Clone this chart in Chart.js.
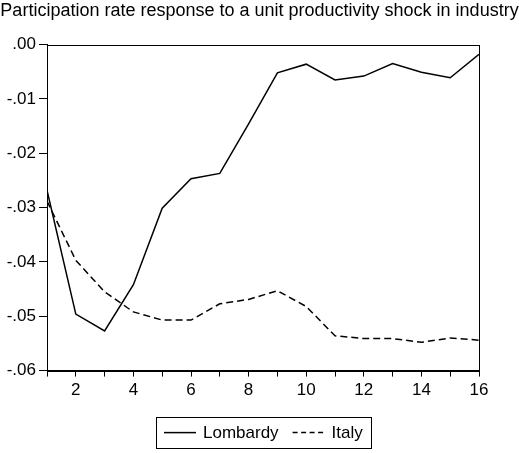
<!DOCTYPE html>
<html>
<head>
<meta charset="utf-8">
<script src="https://cdn.jsdelivr.net/npm/chart.js@4.4.0/dist/chart.umd.min.js"></script>
<style>
    html, body { margin: 0; padding: 0; background: #fff; }
    #wrap { width: 519px; height: 453px; }
</style>
</head>
<body>
<div id="wrap"><canvas id="irfChart" width="519" height="453"></canvas></div>
<script>
// impulse response horizons
const periods = [1, 2, 3, 4, 5, 6, 7, 8, 9, 10, 11, 12, 13, 14, 15, 16];
const lombardy = [-0.0268, -0.0496, -0.0527, -0.0442, -0.0301, -0.0247, -0.0237, -0.0146, -0.0052,
    -0.0036, -0.0065, -0.0058, -0.0035, -0.0051, -0.0061, -0.0018];
const italy = [-0.0288, -0.0397, -0.0455, -0.0492, -0.0507, -0.0507, -0.0477, -0.0469, -0.0453,
    -0.0482, -0.0536, -0.0541, -0.0541, -0.0548, -0.0540, -0.0544];
const seriesNames = ['Lombardy', 'Italy'];
const titleText = 'Participation rate response to a unit productivity shock in industry';

const FONT = "'Liberation Sans', Arial, sans-serif";

function fmtTick(v) {
    const s = Math.abs(v).toFixed(2).replace(/^0/, '');
    return (v < -1e-9 ? '-' : '') + s;
}

// frame around the plot + boxed legend under it
const framePlugin = {
    id: 'frameAndLegend',
    afterDraw(chart) {
        const c = chart.ctx;
        const a = chart.chartArea;
        c.save();
        c.strokeStyle = '#000';
        c.lineWidth = 1;
        c.setLineDash([]);
        c.strokeRect(Math.round(a.left) + 0.5, Math.round(a.top) + 0.5,
            Math.round(a.right - a.left), Math.round(a.bottom - a.top));

        c.font = '17px ' + FONT;
        c.textBaseline = 'middle';
        const sample = 32, gap = 7, between = 14, padX = 8;
        const w0 = c.measureText(seriesNames[0]).width;
        const w1 = c.measureText(seriesNames[1]).width;
        const total = padX + sample + gap + w0 + between + sample + gap + w1 + padX;
        const cx = (a.left + a.right) / 2;
        const cy = a.bottom + 62;
        const x0 = Math.round(cx - total / 2);
        c.strokeRect(x0 + 0.5, Math.round(cy - 16) + 0.5, Math.round(total), 31);

        let x = x0 + padX;
        c.lineWidth = 1.5;
        c.beginPath();
        c.moveTo(x, cy); c.lineTo(x + sample, cy);
        c.stroke();
        x += sample + gap;
        c.fillStyle = '#000';
        c.fillText(seriesNames[0], x, cy + 1);
        x += w0 + between;
        c.setLineDash([5, 3.5]);
        c.beginPath();
        c.moveTo(x, cy); c.lineTo(x + sample, cy);
        c.stroke();
        c.setLineDash([]);
        x += sample + gap;
        c.fillText(seriesNames[1], x, cy + 1);
        c.restore();
    }
};

const ctx = document.getElementById('irfChart').getContext('2d');
new Chart(ctx, {
    type: 'line',
    data: {
        datasets: [
            {
                label: seriesNames[0],
                data: periods.map((p, i) => ({ x: p, y: lombardy[i] })),
                borderColor: '#000',
                borderWidth: 1.5,
                pointRadius: 0,
                tension: 0,
                fill: false
            },
            {
                label: seriesNames[1],
                data: periods.map((p, i) => ({ x: p, y: italy[i] })),
                borderColor: '#000',
                borderWidth: 1.5,
                borderDash: [7, 4],
                pointRadius: 0,
                tension: 0,
                fill: false
            }
        ]
    },
    options: {
        responsive: false,
        animation: false,
        layout: { padding: { left: 0, right: 0, top: 0, bottom: 48 } },
        plugins: {
            legend: { display: false },
            tooltip: { enabled: false },
            title: {
                display: true,
                text: titleText,
                color: '#000',
                font: { family: FONT, size: 18, weight: 'normal' },
                padding: { top: 0, bottom: 23 }
            }
        },
        scales: {
            x: {
                type: 'linear',
                min: 1,
                max: 16,
                border: { display: true, color: '#000', width: 1 },
                grid: { drawOnChartArea: false, drawTicks: true, tickLength: 6, color: '#000' },
                ticks: {
                    stepSize: 1,
                    autoSkip: false,
                    maxRotation: 0,
                    color: '#000',
                    padding: 4,
                    font: { family: FONT, size: 17 },
                    callback: v => (v % 2 === 0 ? String(v) : '')
                }
            },
            y: {
                min: -0.06,
                max: 0,
                afterFit: s => { s.width = 47; },
                border: { display: true, color: '#000', width: 1 },
                grid: { drawOnChartArea: false, drawTicks: true, tickLength: 8, color: '#000' },
                ticks: {
                    stepSize: 0.01,
                    color: '#000',
                    padding: 3,
                    font: { family: FONT, size: 17 },
                    callback: v => fmtTick(v)
                }
            },
            // empty axis that only keeps room on the right
            yRight: {
                position: 'right',
                display: true,
                afterFit: s => { s.width = 40; },
                border: { display: false },
                grid: { display: false },
                ticks: { display: false }
            }
        }
    },
    plugins: [framePlugin]
});
</script>
</body>
</html>
